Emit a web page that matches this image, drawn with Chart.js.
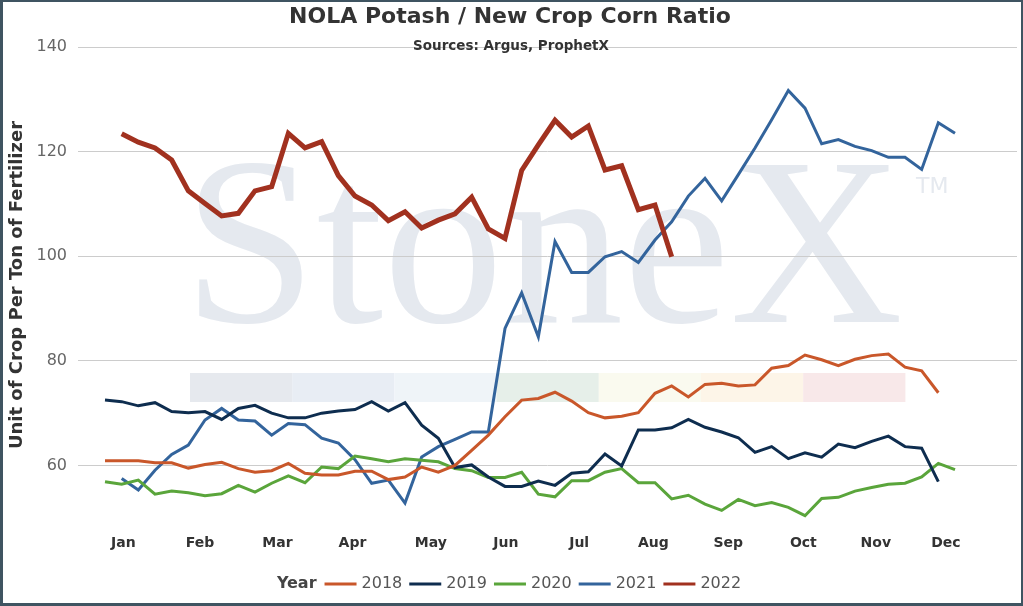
<!DOCTYPE html>
<html>
<head>
<meta charset="utf-8">
<script src="https://cdn.jsdelivr.net/npm/chart.js@4"></script>
<style>
  body { margin: 0; background: #fff; }
  #frame {
    width: 1023px; height: 606px; box-sizing: border-box;
    border-style: solid; border-color: #3f5461; border-width: 2px 2px 3px 3px;
    position: relative; background: #fff;
  }
  #box { position: relative; width: 1018px; height: 601px; }
</style>
</head>
<body>
<div id="frame"><div id="box"><canvas id="ratioChart"></canvas></div></div>
<script>
// week numbers along the season
const weeks = [1,2,3,4,5,6,7,8,9,10,11,12,13,14,15,16,17,18,19,20,21,22,23,24,25,26,
  27,28,29,30,31,32,33,34,35,36,37,38,39,40,41,42,43,44,45,46,47,48,49,50,51,52];

const months = ['Jan','Feb','Mar','Apr','May','Jun','Jul','Aug','Sep','Oct','Nov','Dec'];
// where the month labels sit, in weeks
const monthPos = [2.1, 6.7, 11.35, 15.85, 20.55, 25.05, 29.45, 33.9, 38.4, 42.9, 47.25, 51.45];
const yTicks = [60, 80, 100, 120, 140];

const years = ['2018', '2019', '2020', '2021', '2022'];

const y2018 = [60.9, 60.9, 60.9, 60.5, 60.5, 59.5, 60.2, 60.6, 59.4, 58.7,
  59.0, 60.4, 58.5, 58.2, 58.2, 58.9, 58.9, 57.3, 57.8, 59.7,
  58.7, 60.0, 62.9, 65.8, 69.3, 72.5, 72.8, 74.0, 72.3, 70.1,
  69.1, 69.4, 70.1, 73.8, 75.2, 73.1, 75.5, 75.7, 75.2, 75.4,
  78.6, 79.1, 81.1, 80.2, 79.1, 80.3, 81.0, 81.3, 78.8, 78.1, 73.9, null];

const y2019 = [72.5, 72.2, 71.4, 72.0, 70.3, 70.1, 70.3, 68.8, 70.9, 71.5,
  70.0, 69.1, 69.1, 70.0, 70.4, 70.7, 72.2, 70.4, 72.0, 67.7,
  65.2, 59.6, 60.1, 57.8, 56.0, 56.0, 57.0, 56.2, 58.5, 58.8,
  62.2, 59.9, 66.8, 66.8, 67.2, 68.8, 67.3, 66.4, 65.3, 62.5,
  63.6, 61.3, 62.4, 61.6, 64.1, 63.4, 64.6, 65.6, 63.6, 63.3, 56.9, null];

const y2020 = [56.9, 56.4, 57.2, 54.5, 55.1, 54.8, 54.2, 54.6, 56.2, 54.9,
  56.6, 58.0, 56.7, 59.7, 59.4, 61.8, 61.3, 60.7, 61.3, 61.0,
  60.7, 59.4, 59.0, 57.7, 57.7, 58.7, 54.5, 54.0, 57.1, 57.1,
  58.7, 59.4, 56.7, 56.7, 53.6, 54.3, 52.6, 51.4, 53.5, 52.3,
  52.9, 52.0, 50.4, 53.7, 53.9, 55.1, 55.8, 56.4, 56.6, 57.8, 60.4, 59.2];

const y2021 = [null, 57.5, 55.3, 59.1, 62.1, 63.9, 68.7, 70.9, 68.7, 68.5,
  65.8, 68.0, 67.8, 65.2, 64.3, 61.1, 56.6, 57.2, 52.8, 61.6,
  63.6, 65.0, 66.4, 66.4, 86.2, 93.0, 84.6, 102.8, 96.9, 96.9,
  99.9, 100.9, 98.8, 103.1, 106.6, 111.5, 114.9, 110.6, 115.6, 120.7,
  126.1, 131.7, 128.3, 121.5, 122.3, 121.0, 120.2, 118.9, 118.9, 116.6, 125.5, 123.5];

const y2022 = [null, 123.4, 121.8, 120.7, 118.4, 112.5, 110.1, 107.7, 108.2, 112.5,
  113.3, 123.5, 120.7, 121.9, 115.4, 111.5, 109.8, 106.8, 108.5, 105.4,
  106.9, 108.1, 111.3, 105.2, 103.4, 116.4, 121.3, 126.0, 122.8, 124.9,
  116.5, 117.3, 108.9, 109.8, 99.9];

const colors = ['#c9572a', '#0e2d4f', '#5aa53b', '#33649c', '#a1311f'];
const widths = [3, 3, 3, 3, 5];
const series = [y2018, y2019, y2020, y2021, y2022];

const toPoints = arr => weeks.map((w, i) => ({ x: w, y: arr[i] === undefined ? null : arr[i] }));

// StoneX watermark + colour strip behind the plot
const watermark = {
  id: 'watermark',
  beforeDraw(chart) {
    const c = chart.ctx;
    c.save();
    const strip = ['#e6e9ee', '#e8edf4', '#eff4f8', '#e6efe9', '#fafaef', '#fdf5e8', '#f8e8e9'];
    strip.forEach((col, i) => {
      c.fillStyle = col;
      c.fillRect(187 + i * 102.2, 371, 102.2, 29);
    });
    c.fillStyle = '#e5e9ef';
    c.font = '240px "Liberation Serif"';
    c.textBaseline = 'alphabetic';
    c.fillText('StoneX', 180, 320);
    c.font = '22px "DejaVu Sans"';
    c.fillText('TM', 913, 191);
    c.restore();
  }
};

// subtitle over the top gridline and the "Year" legend at the bottom
const extras = {
  id: 'extras',
  afterDraw(chart) {
    const c = chart.ctx;
    c.save();
    c.fillStyle = '#333';
    c.font = 'bold 13.5px "DejaVu Sans"';
    c.textAlign = 'center';
    c.textBaseline = 'middle';
    c.fillText('Sources: Argus, ProphetX', 508, 44);

    c.textAlign = 'left';
    const yMid = 582;
    c.font = 'bold 16px "DejaVu Sans"';
    const wYear = c.measureText('Year').width;
    c.font = '16px "DejaVu Sans"';
    let total = wYear + 8;
    years.forEach((y, i) => {
      total += 32 + 5 + c.measureText(y).width + (i < years.length - 1 ? 7 : 0);
    });
    let x = 506 - total / 2;
    c.font = 'bold 16px "DejaVu Sans"';
    c.fillStyle = '#444';
    c.fillText('Year', x, yMid);
    x += wYear + 8;
    c.font = '16px "DejaVu Sans"';
    years.forEach((y, i) => {
      c.strokeStyle = colors[i];
      c.lineWidth = 3;
      c.beginPath();
      c.moveTo(x, yMid);
      c.lineTo(x + 32, yMid);
      c.stroke();
      x += 37;
      c.fillStyle = '#555';
      c.fillText(y, x, yMid);
      x += c.measureText(y).width + 7;
    });
    c.restore();
  }
};

new Chart(document.getElementById('ratioChart'), {
  type: 'line',
  data: {
    datasets: years.map((y, i) => ({
      label: y,
      data: toPoints(series[i]),
      borderColor: colors[i],
      backgroundColor: colors[i],
      borderWidth: widths[i],
      pointRadius: 0,
      tension: 0,
      spanGaps: false,
      order: i === 4 ? 0 : 1
    }))
  },
  options: {
    responsive: true,
    maintainAspectRatio: false,
    animation: false,
    layout: { padding: { left: 0, right: 4, top: 0, bottom: 45 } },
    plugins: {
      legend: { display: false },
      tooltip: { enabled: false },
      title: {
        display: true,
        text: 'NOLA Potash / New Crop Corn Ratio',
        color: '#333',
        font: { family: 'DejaVu Sans', size: 22, weight: 'bold' },
        padding: { top: 2, bottom: 16.6 }
      }
    },
    scales: {
      x: {
        type: 'linear',
        min: -0.62,
        max: 55.72,
        grid: { display: false, drawTicks: false },
        border: { display: false },
        afterBuildTicks: s => { s.ticks = monthPos.map(v => ({ value: v })); },
        afterFit: s => { s.height = 35; },
        ticks: {
          autoSkip: false,
          maxRotation: 0,
          padding: 12,
          color: '#333',
          font: { family: 'DejaVu Sans', size: 14, weight: 'bold' },
          callback: (v, i) => months[i]
        }
      },
      y: {
        min: 49,
        max: 140,
        grid: { color: '#cccccc', lineWidth: 1, drawTicks: false },
        border: { display: false },
        afterBuildTicks: s => { s.ticks = yTicks.map(v => ({ value: v })); },
        afterFit: s => { s.width = 75; },
        ticks: {
          padding: 11,
          color: '#666',
          font: { family: 'DejaVu Sans', size: 16 }
        },
        title: {
          display: true,
          text: 'Unit of Crop Per Ton of Fertilizer',
          color: '#333',
          font: { family: 'DejaVu Sans', size: 18, weight: 'bold' },
          padding: { top: 4, bottom: 0 }
        }
      }
    }
  },
  plugins: [watermark, extras]
});
</script>
</body>
</html>
